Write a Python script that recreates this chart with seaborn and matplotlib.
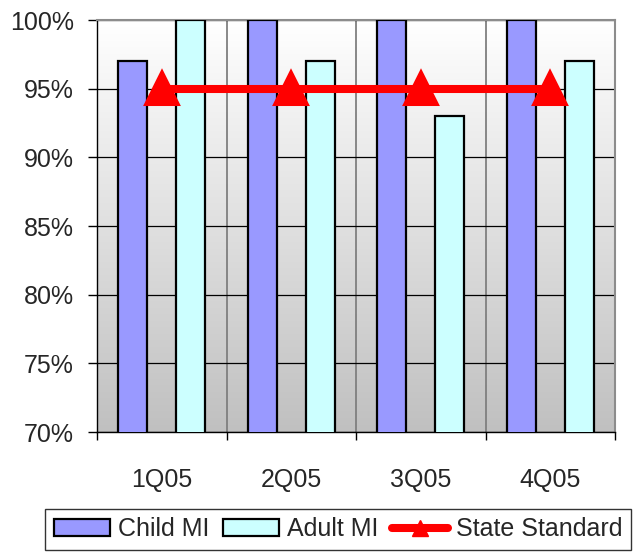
import numpy as np
import pandas as pd
import matplotlib
matplotlib.use("Agg")
import matplotlib.pyplot as plt
from matplotlib.colors import LinearSegmentedColormap
from matplotlib.patches import Patch
from matplotlib.lines import Line2D
from matplotlib.ticker import FixedLocator, FuncFormatter
import seaborn as sns

# Quarterly compliance rates (%)
quarters = ["1Q05", "2Q05", "3Q05", "4Q05"]
child_mi = [97, 100, 100, 100]
adult_mi = [100, 97, 93, 97]
state_standard = [95, 95, 95, 95]
series_names = ["Child MI", "Adult MI"]
y_ticks = [70, 75, 80, 85, 90, 95, 100]

sns.set_style("ticks")
plt.rcParams["font.family"] = ["Liberation Sans", "DejaVu Sans"]

bars = pd.DataFrame({
    "quarter": quarters * 2,
    "series": [series_names[0]] * len(quarters) + [series_names[1]] * len(quarters),
    "value": child_mi + adult_mi,
})
line = pd.DataFrame({"quarter": quarters, "value": state_standard})

colors = {"Child MI": "#9999FF", "Adult MI": "#CCFFFF"}
red = "#FF0000"

fig = plt.figure(figsize=(6.43, 5.54), dpi=100)
ax = fig.add_axes([97 / 643, 1 - 432 / 554, (615 - 97) / 643, (432 - 20) / 554])

# vertical white-to-gray gradient behind the plot area
grad = np.linspace(1, 0, 256).reshape(-1, 1)
cmap = LinearSegmentedColormap.from_list("bg", ["#C0C0C0", "#FFFFFF"])
ax.imshow(grad, extent=[0, 1, 0, 1], transform=ax.transAxes, aspect="auto",
          cmap=cmap, vmin=0, vmax=1, zorder=0, origin="upper")

sns.barplot(data=bars, x="quarter", y="value", hue="series", order=quarters,
            hue_order=series_names, palette=colors, saturation=1,
            width=0.9, gap=0.5, edgecolor="black", linewidth=1.6,
            legend=False, ax=ax, zorder=3)

sns.pointplot(data=line, x="quarter", y="value", order=quarters, color=red,
              markers="^", markersize=20, linewidth=5.8, ax=ax, zorder=4)

ax.set_xlim(-0.5, len(quarters) - 0.5)
ax.set_ylim(70, 100)
ax.set_xlabel("")
ax.set_ylabel("")

# axes styling
ax.yaxis.set_major_locator(FixedLocator(y_ticks))
ax.yaxis.set_major_formatter(FuncFormatter(lambda v, p: f"{v:.0f}%"))
ax.yaxis.grid(True, color="black", linewidth=0.9, zorder=1)
ax.set_axisbelow(True)
ax.xaxis.set_minor_locator(FixedLocator(np.arange(-0.5, len(quarters), 1.0)))
ax.xaxis.grid(True, which="minor", color="#7F7F7F", linewidth=1.3)
ax.xaxis.grid(False, which="major")
ax.tick_params(axis="x", which="major", length=0, pad=26, labelsize=18)
ax.tick_params(axis="x", which="minor", length=6, width=1, color="black")
ax.tick_params(axis="y", length=6.5, width=1, pad=10, labelsize=18, color="black")

for side in ["left", "bottom"]:
    ax.spines[side].set_color("black")
    ax.spines[side].set_linewidth(1.0)
for side in ["top", "right"]:
    ax.spines[side].set_visible(True)
    ax.spines[side].set_color("#8C8C8C")
    ax.spines[side].set_linewidth(1.5)

handles = [
    Patch(facecolor=colors["Child MI"], edgecolor="black", linewidth=1.6),
    Patch(facecolor=colors["Adult MI"], edgecolor="black", linewidth=1.6),
    Line2D([], [], color=red, linewidth=5.8, marker="^", markersize=11),
]
leg = fig.legend(handles, ["Child MI", "Adult MI", "State Standard"],
                 loc="upper left", bbox_to_anchor=(45 / 643, 1 - 509 / 554),
                 bbox_transform=fig.transFigure, ncol=3, fontsize=18,
                 frameon=True, fancybox=False, borderaxespad=0,
                 borderpad=0.34, handlelength=2.24, handleheight=0.68,
                 handletextpad=0.32, columnspacing=0.55)
leg.get_frame().set_edgecolor("black")
leg.get_frame().set_linewidth(1.0)

fig.savefig("out.png", dpi=100)
